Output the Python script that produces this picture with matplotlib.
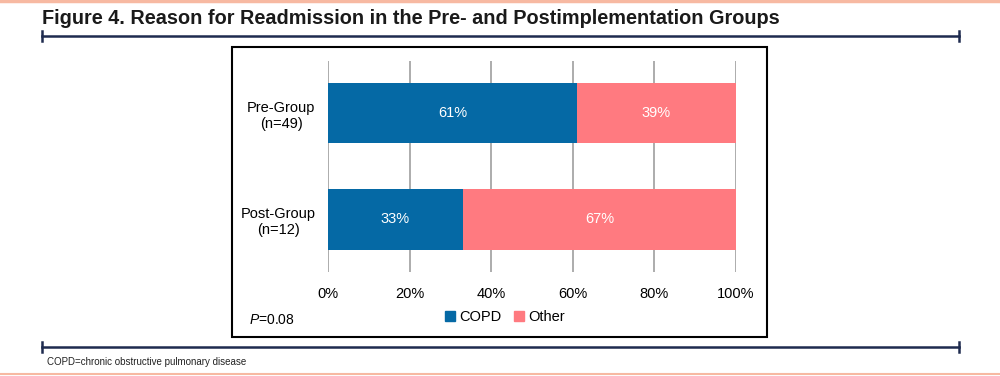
import matplotlib.pyplot as plt
from matplotlib.patches import Rectangle, Patch
from matplotlib.lines import Line2D

plt.rcParams['font.family'] = ['Liberation Sans', 'DejaVu Sans']
plt.rcParams['mathtext.fontset'] = 'custom'
plt.rcParams['mathtext.it'] = 'Liberation Sans:italic'
plt.rcParams['mathtext.rm'] = 'Liberation Sans'

groups = ['Post-Group\n(n=12)', 'Pre-Group\n(n=49)']
copd = [33, 61]
other = [67, 39]
xticks = [0, 20, 40, 60, 80, 100]

blue = '#0569A5'
pink = '#FF7A80'
navy = '#1E2B4F'
salmon = '#F7B9A2'

fig = plt.figure(figsize=(10, 3.76), dpi=100)

# page decorations
fig.add_artist(Line2D([0, 1], [1 - 1 / 376, 1 - 1 / 376], color=salmon, lw=2.5))
fig.add_artist(Line2D([0, 1], [1 - 374 / 376, 1 - 374 / 376], color=salmon, lw=1.5))
for y in [36, 347]:
    yy = 1 - y / 376
    fig.add_artist(Line2D([0.042, 0.959], [yy, yy], color=navy, lw=1.8))
    for x in [0.042, 0.959]:
        fig.add_artist(Line2D([x, x], [yy - 5 / 376, yy + 5 / 376], color=navy, lw=1.8))

fig.text(0.042, 1 - 18 / 376, 'Figure 4. Reason for Readmission in the Pre- and Postimplementation Groups',
         fontsize=14.3, fontweight='bold', color='#1a1a1a', va='center', ha='left')
fig.text(0.047, 1 - 362 / 376, 'COPD=chronic obstructive pulmonary disease',
         fontsize=7, color='#222222', va='center', ha='left')

# chart frame
fig.add_artist(Rectangle((0.232, 1 - 337 / 376), 0.767 - 0.232, (337 - 47) / 376,
                         transform=fig.transFigure, fill=False, ec='black', lw=1.5))

ax = fig.add_axes([0.328, 1 - 272 / 376, 0.408, (272 - 61) / 376])
ypos = [0, 1]
ax.barh(ypos, copd, height=0.57, color=blue, zorder=3, label='COPD')
ax.barh(ypos, other, left=copd, height=0.57, color=pink, zorder=3, label='Other')

for i in range(len(ypos)):
    ax.text(copd[i] / 2, ypos[i], f'{copd[i]}%', color='white', ha='center', va='center',
            fontsize=10.5, zorder=4)
    ax.text(copd[i] + other[i] / 2, ypos[i], f'{other[i]}%', color='white', ha='center',
            va='center', fontsize=10.5, zorder=4)

ax.set_xlim(0, 100)
ax.set_ylim(-0.495, 1.49)
ax.set_xticks(xticks)
ax.set_xticklabels([f'{t}%' for t in xticks])
ax.set_yticks(ypos)
ax.set_yticklabels(groups)
for lbl in ax.get_yticklabels():
    lbl.set_multialignment('center')
ax.tick_params(axis='x', length=0, pad=11, labelsize=10.5)
ax.tick_params(axis='y', length=0, pad=9, labelsize=10.5)
ax.grid(axis='x', color='#A6A6A6', lw=1.3, zorder=0)
for s in ax.spines.values():
    s.set_visible(False)

handles = [Patch(color=blue, label='COPD'), Patch(color=pink, label='Other')]
fig.legend(handles=handles, loc='center', bbox_to_anchor=(0.505, 1 - 317 / 376), ncol=2,
           frameon=False, fontsize=10.5, handlelength=0.7, handleheight=0.7,
           handletextpad=0.3, columnspacing=0.8)

fig.text(0.249, 1 - 320 / 376, '$\\it{P}$=0.08', fontsize=10, va='center', ha='left')

fig.savefig('out.png', dpi=100)
